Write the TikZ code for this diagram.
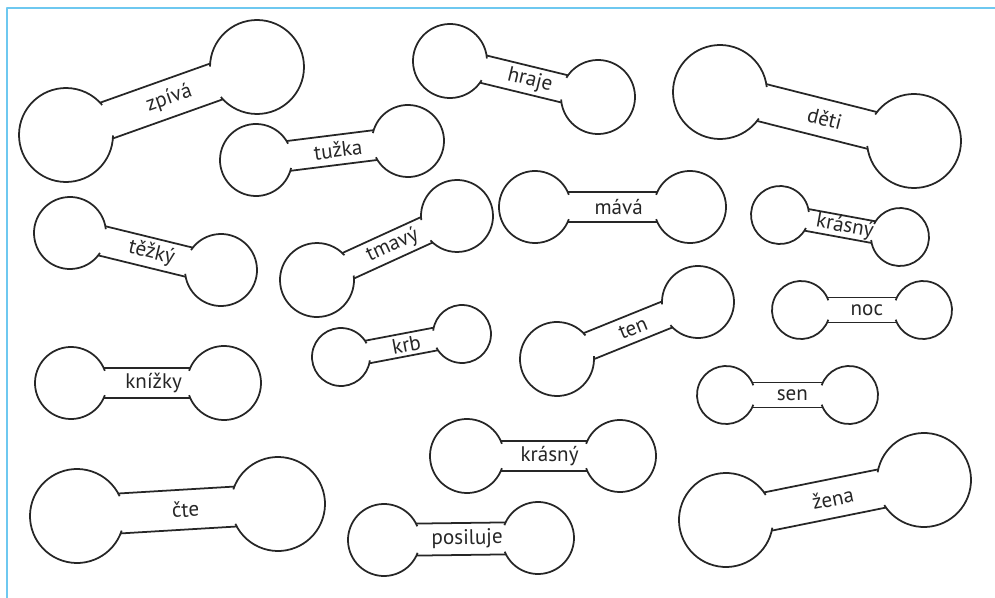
\documentclass[tikz,border=0pt]{standalone}
\usepackage{fontspec}
\setmainfont{PT Sans}
\usepackage{tikz}
\usetikzlibrary{calc}
\definecolor{frameblue}{RGB}{110,200,240}

% one bone: name, left centre x y, radius, right centre x y, radius, half width, word
\newcommand{\dumbbell}[9]{%
  \pgfmathsetmacro{\ang}{atan2(#6-#3,#5-#2)}%
  \pgfmathsetmacro{\rot}{0-(\ang)}%
  \pgfmathsetmacro{\aone}{asin(#8/#4)}%
  \pgfmathsetmacro{\atwo}{asin(#8/#7)}%
  \pgfmathsetmacro{\lsa}{\ang+\aone-172/#4}%
  \pgfmathsetmacro{\lea}{\ang+360-\aone+172/#4}%
  \pgfmathsetmacro{\rsa}{\ang+180+\atwo-172/#7}%
  \pgfmathsetmacro{\rea}{\ang+540-\atwo+172/#7}%
  \pgfmathsetmacro{\lu}{\ang+\aone}%
  \pgfmathsetmacro{\ll}{\ang-\aone}%
  \pgfmathsetmacro{\ru}{\ang+180-\atwo}%
  \pgfmathsetmacro{\rl}{\ang+180+\atwo}%
  \coordinate (#1-l) at (#2,#3);
  \coordinate (#1-r) at (#5,#6);
  \draw[bone] ([shift={(\lsa:#4)}]#1-l) arc[start angle=\lsa, end angle=\lea, radius=#4];
  \draw[bone] ([shift={(\rsa:#7)}]#1-r) arc[start angle=\rsa, end angle=\rea, radius=#7];
  \draw[bone] ([shift={(\lu:#4)}]#1-l) -- ([shift={(\ru:#7)}]#1-r);
  \draw[bone] ([shift={(\ll:#4)}]#1-l) -- ([shift={(\rl:#7)}]#1-r);
  \node[word,rotate=\rot] (#1) at ($(#1-l)!0.54!(#1-r)$) {#9};
}

\begin{document}
\begin{tikzpicture}[x=0.02cm,y=-0.02cm,line join=round]
\tikzstyle{bone} = [draw=black!85,line width=1pt]
\tikzstyle{word} = [font=\fontsize{12}{14}\selectfont,inner sep=1pt,text=black!85]
\useasboundingbox (0,0) rectangle (995,598);
\draw[frameblue,line width=1.2pt] (7,598)--(7,8)--(995,8);
\dumbbell{zpiva}{66}{135}{47}{257}{67}{47}{19}{zpívá}
\dumbbell{tuzka}{256}{160}{36}{408}{141}{36}{15}{tužka}
\dumbbell{tezky}{70}{233}{36}{221}{270}{36}{15}{těžký}
\dumbbell{tmavy}{317}{280}{37}{457}{216}{36}{14}{tmavý}
\dumbbell{hraje}{450}{61}{37}{598}{97}{37}{14}{hraje}
\dumbbell{deti}{720}{92}{47}{914}{141}{47}{19}{děti}
\dumbbell{mava}{535}{207}{36}{690}{207}{36}{15}{mává}
\dumbbell{krasnyA}{780}{215}{29}{900}{237}{29}{11}{krásný}
\dumbbell{knizky}{71}{383}{36}{224}{383}{37}{15}{knížky}
\dumbbell{krb}{341}{357}{29}{462}{334}{29}{11.5}{krb}
\dumbbell{cte}{77}{516}{47}{278}{504}{47}{20}{čte}
\dumbbell{posiluje}{384}{540}{36}{538}{538}{36}{16}{posiluje}
\dumbbell{ten}{557}{359}{37}{698}{302}{36}{14}{ten}
\dumbbell{noc}{801}{310}{29}{923}{310}{29}{12.5}{noc}
\dumbbell{sen}{726}{395}{29}{849}{395}{29}{12.5}{sen}
\dumbbell{krasnyB}{467}{456}{37}{620}{456}{36}{15}{krásný}
\dumbbell{zena}{726}{520}{47}{924}{480}{47}{19.5}{žena}
\end{tikzpicture}
\end{document}
